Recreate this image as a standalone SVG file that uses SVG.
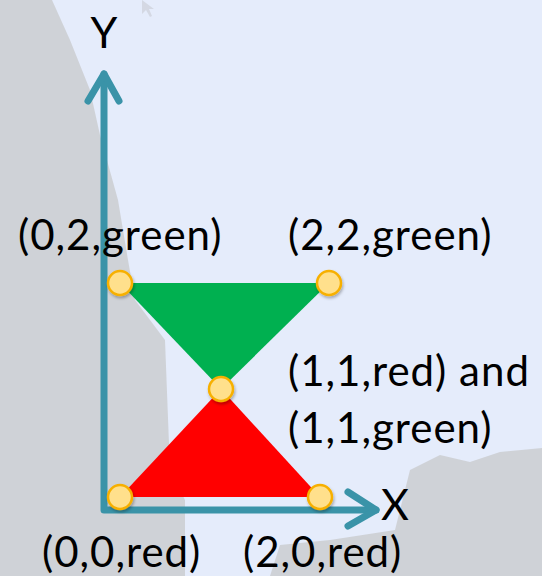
<svg xmlns="http://www.w3.org/2000/svg" width="542" height="576" viewBox="0 0 542 576">
<defs>
<style>
.lbl{font-family:"Lato","Open Sans","Liberation Sans",sans-serif;font-size:42px;letter-spacing:1px;fill:#000}
.ax{font-family:"Lato","Open Sans","Liberation Sans",sans-serif;font-size:43px;fill:#000}
.axis{stroke:#3A93A8;stroke-width:7;fill:none;stroke-linecap:round;stroke-linejoin:round}
.node{fill:#FFE08C;stroke:#F7B000;stroke-width:2.5}
.bg{fill:#B0ACA2;opacity:0.4}
</style>
<filter id="sh" x="-50%" y="-50%" width="200%" height="200%">
<feDropShadow dx="1" dy="2" stdDeviation="1.5" flood-color="#000" flood-opacity="0.3"/>
</filter>
</defs>
<rect width="542" height="576" fill="#E5ECFB"/>
<g id="background">
<polygon class="bg" points="0,0 52,0 70,40 90,90 100,135 118,200 128,260 135,300 165,340 170,470 185,500 185,576 0,576"/>
<polygon class="bg" points="410,470 440,455 470,462 500,452 542,448 542,576 270,576 280,545 330,540 395,530"/>
<polygon points="142,0 142,14 146,10 150,17 152,16 149,9 154,9" fill="#C8CCD4" opacity="0.6"/>
</g>
<g id="triangles">
<polygon id="green-triangle" points="120,283 329,283 221,389" fill="#00B050"/>
<polygon id="red-triangle" points="221,389 320,497 120,497" fill="#FF0000"/>
</g>
<g id="connectors">
<polyline id="axes" class="axis" points="104,74 104,510 376,510"/>
<polyline id="y-head" class="axis" points="88,101 104,74 119,101"/>
<polyline id="x-head" class="axis" points="348,492 376,510 348,526"/>
</g>
<g id="nodes">
<g id="n00"><circle class="node" cx="120" cy="497" r="12" filter="url(#sh)"/></g>
<g id="n20"><circle class="node" cx="320" cy="497" r="12" filter="url(#sh)"/></g>
<g id="n11"><circle class="node" cx="221" cy="389" r="12" filter="url(#sh)"/></g>
<g id="n02"><circle class="node" cx="120" cy="283" r="12" filter="url(#sh)"/></g>
<g id="n22"><circle class="node" cx="329" cy="283" r="12" filter="url(#sh)"/></g>
</g>
<g id="labels">
<text class="ax" x="104" y="48" text-anchor="middle">Y</text>
<text class="ax" x="395" y="520" text-anchor="middle">X</text>
<text class="lbl" x="18" y="250">(0,2,green)</text>
<text class="lbl" x="288" y="250">(2,2,green)</text>
<text class="lbl" x="288" y="386">(1,1,red) and</text>
<text class="lbl" x="288" y="443">(1,1,green)</text>
<text class="lbl" x="42" y="567">(0,0,red)</text>
<text class="lbl" x="243" y="567">(2,0,red)</text>
</g>
</svg>
